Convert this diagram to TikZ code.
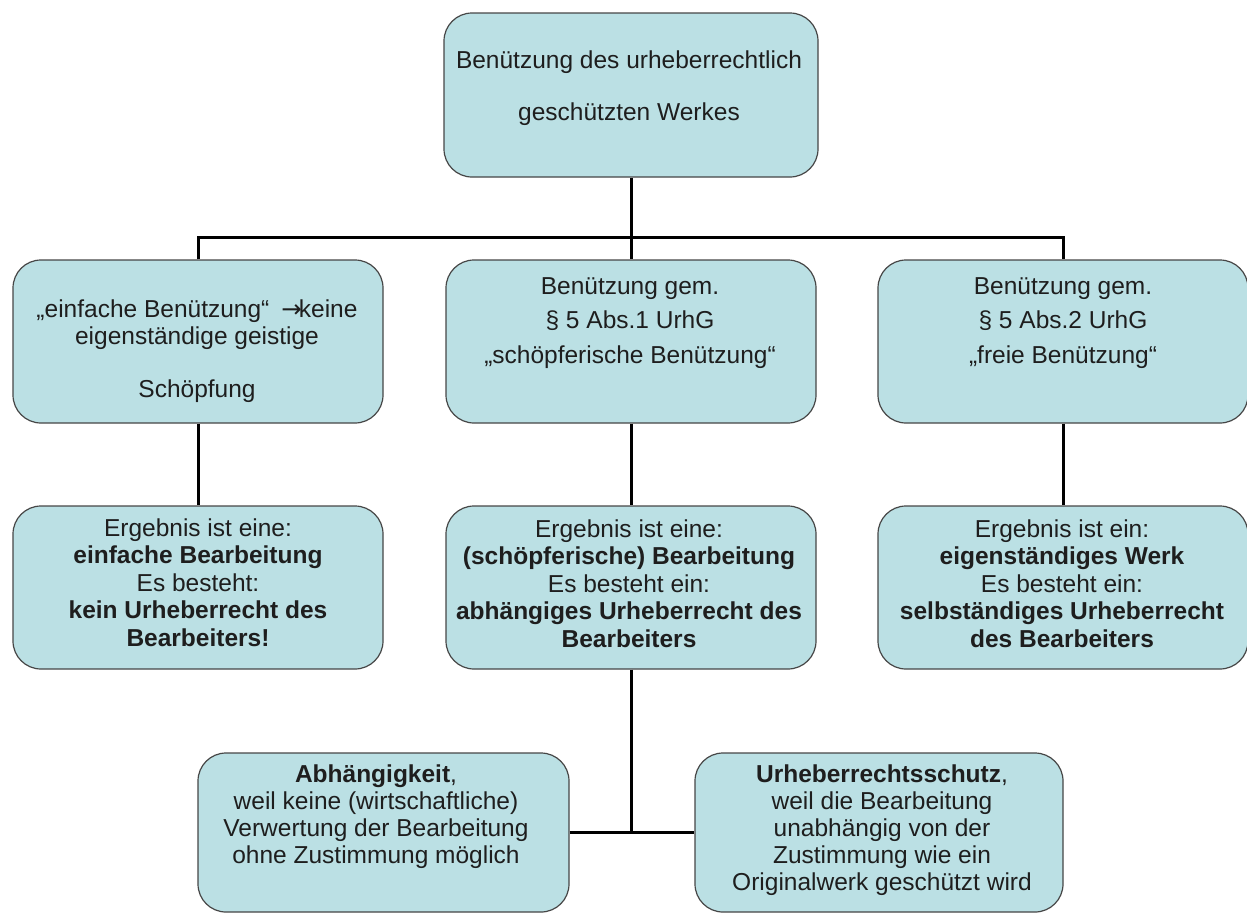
\documentclass[tikz,border=0pt]{standalone}
\usepackage{fontspec}
\setmainfont{Liberation Sans}
\newfontfamily\dvs{DejaVu Sans}
\definecolor{boxfill}{RGB}{187,224,228}
\definecolor{boxline}{RGB}{70,70,70}
\definecolor{txtcol}{RGB}{30,30,30}
\begin{document}
\begin{tikzpicture}[x=1pt,y=-1pt,
  box/.style={draw=boxline, line width=1.2pt, fill=boxfill, rectangle, rounded corners=28pt, inner sep=0pt},
  txt/.style={align=center, anchor=base, inner sep=0pt, text=txtcol, font=\fontsize{24.5}{27.5}\selectfont},
  conn/.style={line width=3pt, black}]
\useasboundingbox (0,0) rectangle (1247,913);

% boxes
\node[box, minimum width=374pt, minimum height=164pt] (top) at (631,95) {};
\node[box, minimum width=370pt, minimum height=163pt] (l2) at (198,341.5) {};
\node[box, minimum width=370pt, minimum height=163pt] (m2) at (631,341.5) {};
\node[box, minimum width=370pt, minimum height=163pt] (r2) at (1063,341.5) {};
\node[box, minimum width=370pt, minimum height=163pt] (l3) at (198,587.5) {};
\node[box, minimum width=370pt, minimum height=163pt] (m3) at (631,587.5) {};
\node[box, minimum width=370pt, minimum height=163pt] (r3) at (1063,587.5) {};
\node[box, minimum width=371pt, minimum height=159pt] (l4) at (383.5,832.5) {};
\node[box, minimum width=368pt, minimum height=159pt] (r4) at (879,832.5) {};

% texts (base anchor = baseline of the last line)
\node[txt, font=\fontsize{24.5}{52}\selectfont] (ttop) at (629,120) {Benützung des urheberrechtlich\\geschützten Werkes};
\node[txt, font=\fontsize{24.5}{26.5}\selectfont] (tl2) at (197,397) {„einfache Benützung“\hspace{12pt}{\dvs →}\hspace{-3pt}keine\\eigenständige geistige\\[26.5pt]Schöpfung};
\node[txt, font=\fontsize{24.5}{34.5}\selectfont] (tm2) at (630,363) {Benützung gem.\\§ 5 Abs.1 UrhG\\„schöpferische Benützung“};
\node[txt, font=\fontsize{24.5}{34.5}\selectfont] (tr2) at (1063,363) {Benützung gem.\\§ 5 Abs.2 UrhG\\„freie Benützung“};
\node[txt] (tl3) at (198,646) {Ergebnis ist eine:\\\textbf{einfache Bearbeitung}\\Es besteht:\\\textbf{kein Urheberrecht des}\\\textbf{Bearbeiters!}};
\node[txt] (tm3) at (629,647) {Ergebnis ist eine:\\\textbf{(schöpferische) Bearbeitung}\\Es besteht ein:\\\textbf{abhängiges Urheberrecht des}\\\textbf{Bearbeiters}};
\node[txt] (tr3) at (1062,647) {Ergebnis ist ein:\\\textbf{eigenständiges Werk}\\Es besteht ein:\\\textbf{selbständiges Urheberrecht}\\\textbf{des Bearbeiters}};
\node[txt, font=\fontsize{24.5}{27}\selectfont] (tl4) at (376,863) {\textbf{Abhängigkeit},\\weil keine (wirtschaftliche)\\Verwertung der Bearbeitung\\ohne Zustimmung möglich};
\node[txt, font=\fontsize{24.5}{27}\selectfont] (tr4) at (882,890) {\textbf{Urheberrechtsschutz},\\weil die Bearbeitung\\unabhängig von der\\Zustimmung wie ein\\Originalwerk geschützt wird};

% connectors
\coordinate (j) at (631,237);
\draw[conn] (top.south) -- (j);
\draw[conn] (l2.north) |- (j) -| (r2.north);
\draw[conn] (j) -- (m2.north);
\draw[conn] (l2.south) -- (l3.north);
\draw[conn] (m2.south) -- (m3.north);
\draw[conn] (r2.south) -- (r3.north);
\draw[conn] (l4.east) -- (r4.west);
\draw[conn] (m3.south) -- (m3.south |- l4.east);
\end{tikzpicture}
\end{document}
